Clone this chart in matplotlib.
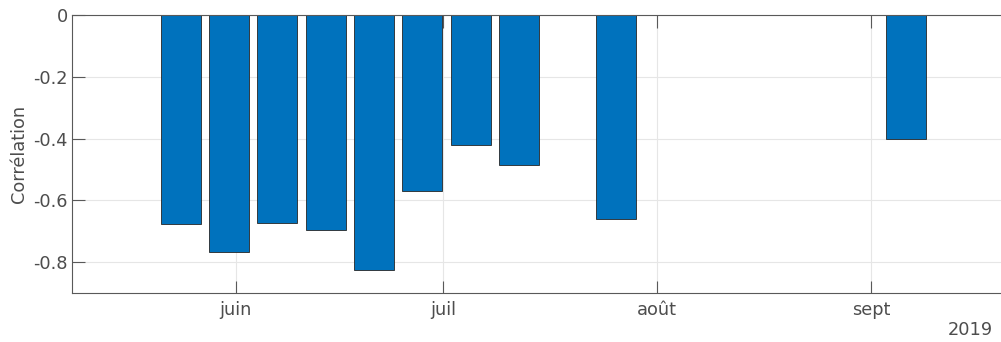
"""Weekly correlation bars, summer 2019."""

from datetime import datetime

import matplotlib

matplotlib.use("Agg")
import matplotlib.pyplot as plt

# Weekly values.
weeks = [
    "2019-05-24", "2019-05-31", "2019-06-07", "2019-06-14", "2019-06-21",
    "2019-06-28", "2019-07-05", "2019-07-12", "2019-07-26", "2019-09-06",
]
correlation = [-0.677, -0.768, -0.673, -0.696, -0.826,
               -0.570, -0.420, -0.486, -0.661, -0.403]

month_ticks = ["2019-06-01", "2019-07-01", "2019-08-01", "2019-09-01"]
month_labels = ["juin", "juil", "août", "sept"]
y_ticks = [0, -0.2, -0.4, -0.6, -0.8]

BAR_BLUE = "#0072BD"
TEXT = "#4d4d4d"
AXIS = "#595959"
FS = 12.8

plt.rcParams["font.family"] = "DejaVu Sans"
plt.rcParams["axes.unicode_minus"] = False


def _d(s):
    return datetime.strptime(s, "%Y-%m-%d %H:%M") if " " in s else datetime.strptime(s, "%Y-%m-%d")


def main():
    fig = plt.figure(figsize=(10.01, 3.42), dpi=100)
    # Right edge sits past the canvas, as in the cropped original.
    ax = fig.add_axes((72 / 1001, 49 / 342, 940 / 1001, 278 / 342))

    xs = [_d(w) for w in weeks]
    ax.bar(xs, correlation, width=5.8, color=BAR_BLUE, edgecolor="#262626",
           linewidth=0.6, zorder=2)

    ax.set_xlim(_d("2019-05-08 06:30"), _d("2019-09-21 10:00"))
    ax.set_ylim(-0.9, 0)

    tick_dates = [_d(t) for t in month_ticks]
    ax.set_xticks(tick_dates)
    ax.set_xticklabels(month_labels)
    ax.set_yticks(y_ticks)
    ax.set_yticklabels(["0" if v == 0 else f"{v:.1f}" for v in y_ticks])

    # Grid drawn by hand so it stays under the bars while ticks stay on top.
    for t in tick_dates:
        ax.axvline(t, color="#e6e6e6", linewidth=0.8, zorder=0)
    for v in y_ticks:
        ax.axhline(v, color="#e6e6e6", linewidth=0.8, zorder=0)

    ax.tick_params(direction="in", length=9, width=0.8, colors=AXIS,
                   labelcolor=TEXT, labelsize=FS, top=True, right=False)
    ax.tick_params(axis="y", pad=3)
    ax.tick_params(axis="x", pad=6)
    for side in ("top", "left", "bottom"):
        ax.spines[side].set_color(AXIS)
        ax.spines[side].set_linewidth(0.8)
    ax.spines["right"].set_visible(False)

    ax.set_ylabel("Corrélation", color=TEXT, fontsize=FS, labelpad=4)
    fig.text(993 / 1001, 1 - 330 / 342, "2019", ha="right", va="center",
             color=TEXT, fontsize=FS)

    fig.savefig("out.png", dpi=100)


if __name__ == "__main__":
    main()
